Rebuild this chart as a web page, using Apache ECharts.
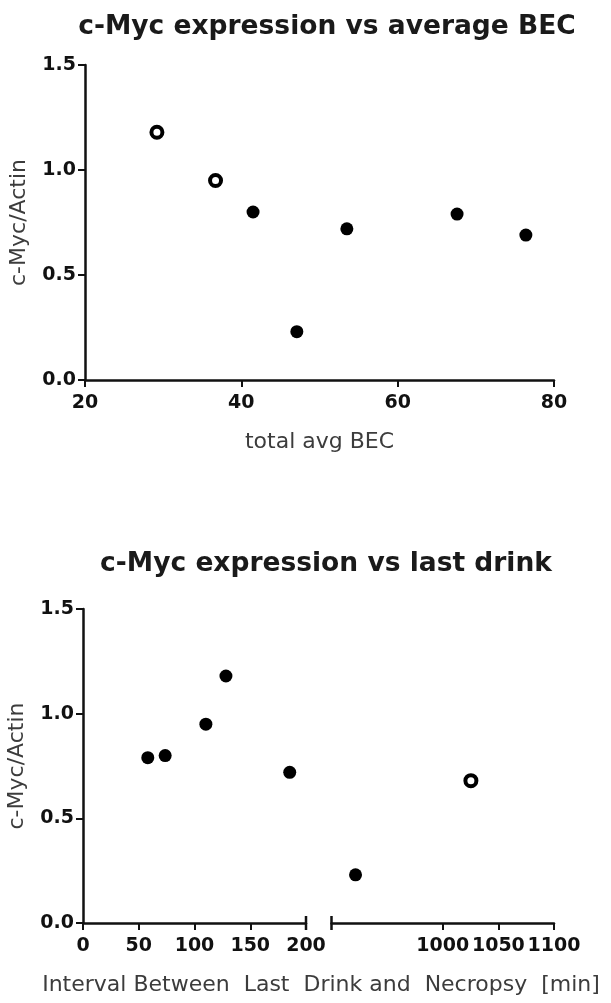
<!DOCTYPE html>
<html>
<head>
<meta charset="utf-8">
<script src="https://cdn.jsdelivr.net/npm/echarts@6/dist/echarts.min.js"></script>
<style>
html,body{margin:0;padding:0;background:#fff;}
#c{width:611px;height:1003px;}
</style>
</head>
<body>
<div id="c"></div>
<script>
// ---- data ----
const titleTop = 'c-Myc expression vs average BEC';
const titleBottom = 'c-Myc expression vs last drink';
const yName = 'c-Myc/Actin';
const xNameTop = 'total avg BEC';
const xNameBottom = 'Interval Between  Last  Drink and  Necropsy  [min]';

const becOpenX = [29.2, 36.7];
const becOpenY = [1.18, 0.95];
const becFilledX = [41.5, 47.1, 53.5, 67.6, 76.4];
const becFilledY = [0.80, 0.23, 0.72, 0.79, 0.69];

const drinkFilledX = [58.1, 73.7, 110.2, 128.2, 185.4, 921.6];
const drinkFilledY = [0.79, 0.80, 0.95, 1.18, 0.72, 0.23];
const drinkOpenX = [1025.3];
const drinkOpenY = [0.68];

const yTicks = [0, 0.5, 1.0, 1.5];
const becTicks = [20, 40, 60, 80];
const seg1Ticks = [0, 50, 100, 150, 200];
const seg2Ticks = [1000, 1050, 1100];
const seg1Range = [0, 200];
const seg2Range = [900, 1100];

// ---- helpers ----
const FONT = 'DejaVu Sans';
const INK = '#111';
const zip = (xs, ys) => xs.map((x, i) => [x, ys[i]]);
const inRange = (pts, r) => pts.filter(p => p[0] >= r[0] && p[0] <= r[1]);

const axisLine = { show: true, lineStyle: { color: INK, width: 2.5 } };
const axisTick = { show: true, length: 7, lineStyle: { color: INK, width: 2 } };
const tickLabel = { color: INK, fontFamily: FONT, fontWeight: 'bold', fontSize: 19, hideOverlap: false };
const nameStyle = { color: '#3c3c3c', fontFamily: FONT, fontSize: 22 };

const filledStyle = { color: '#000', opacity: 1 };
const openStyle = { color: '#fff', borderColor: '#000', borderWidth: 4, opacity: 1 };

function yAxis(gridIndex, show) {
  return {
    type: 'value', gridIndex: gridIndex, min: yTicks[0], max: yTicks[yTicks.length - 1], interval: 0.5,
    show: show,
    name: yName, nameLocation: 'middle', nameGap: 55, nameRotate: 90, nameTextStyle: nameStyle,
    axisLine: axisLine, axisTick: axisTick, splitLine: { show: false },
    axisLabel: Object.assign({ margin: 9, formatter: v => v.toFixed(1) }, tickLabel)
  };
}

const drinkFilled = zip(drinkFilledX, drinkFilledY);
const drinkOpen = zip(drinkOpenX, drinkOpenY);
const plain = v => String(v);

const chart = echarts.init(document.getElementById('c'), null, { renderer: 'canvas' });

const option = {
  animation: false,
  backgroundColor: '#fff',
  title: [
    { text: titleTop, left: 322, top: 9, textAlign: 'center',
      textStyle: { fontFamily: FONT, fontWeight: 'bold', fontSize: 26.5, color: '#1a1a1a' } },
    { text: titleBottom, left: 321, top: 546, textAlign: 'center',
      textStyle: { fontFamily: FONT, fontWeight: 'bold', fontSize: 26.5, color: '#1a1a1a' } },
    { text: xNameBottom, left: 316, top: 969, textAlign: 'center',
      textStyle: { fontFamily: FONT, fontWeight: 'normal', fontSize: 22, color: '#3c3c3c' } }
  ],
  grid: [
    { left: 83, top: 65, width: 471, height: 315 },
    { left: 83, top: 609, width: 223, height: 314 },
    { left: 331.5, top: 609, width: 222.5, height: 314 }
  ],
  xAxis: [
    { type: 'value', gridIndex: 0, min: becTicks[0], max: becTicks[becTicks.length - 1], interval: 20,
      name: xNameTop, nameLocation: 'middle', nameGap: 51, nameTextStyle: nameStyle,
      axisLine: axisLine, axisTick: axisTick, splitLine: { show: false },
      axisLabel: Object.assign({ margin: 14, formatter: plain }, tickLabel) },
    { type: 'value', gridIndex: 1, min: seg1Range[0], max: seg1Range[1], interval: 50,
      axisLine: axisLine, splitLine: { show: false },
      axisTick: Object.assign({ customValues: seg1Ticks }, axisTick),
      axisLabel: Object.assign({ margin: 14, customValues: seg1Ticks, formatter: plain }, tickLabel) },
    { type: 'value', gridIndex: 2, min: seg2Range[0], max: seg2Range[1], interval: 50,
      axisLine: axisLine, splitLine: { show: false },
      axisTick: Object.assign({ customValues: seg2Ticks }, axisTick),
      axisLabel: Object.assign({ margin: 14, customValues: seg2Ticks, formatter: plain,
        showMinLabel: true, showMaxLabel: true }, tickLabel) }
  ],
  yAxis: [yAxis(0, true), yAxis(1, true), yAxis(2, false)],
  series: [
    { type: 'scatter', xAxisIndex: 0, yAxisIndex: 0, symbolSize: 13,
      itemStyle: filledStyle, data: zip(becFilledX, becFilledY) },
    { type: 'scatter', xAxisIndex: 0, yAxisIndex: 0, symbolSize: 11,
      itemStyle: openStyle, data: zip(becOpenX, becOpenY) },
    { type: 'scatter', xAxisIndex: 1, yAxisIndex: 1, symbolSize: 13,
      itemStyle: filledStyle, data: inRange(drinkFilled, seg1Range) },
    { type: 'scatter', xAxisIndex: 1, yAxisIndex: 1, symbolSize: 11,
      itemStyle: openStyle, data: inRange(drinkOpen, seg1Range) },
    { type: 'scatter', xAxisIndex: 2, yAxisIndex: 2, symbolSize: 13,
      itemStyle: filledStyle, data: inRange(drinkFilled, seg2Range) },
    { type: 'scatter', xAxisIndex: 2, yAxisIndex: 2, symbolSize: 11,
      itemStyle: openStyle, data: inRange(drinkOpen, seg2Range) }
  ]
};
chart.setOption(option);

// axis-break marks, positioned from the axes' own scales
const xb1 = chart.convertToPixel({ xAxisIndex: 1 }, seg1Range[1]);
const xb2 = chart.convertToPixel({ xAxisIndex: 2 }, seg2Range[0]);
const yb = chart.convertToPixel({ yAxisIndex: 1 }, 0);
const brk = x => ({ type: 'line', silent: true, z: 10,
  shape: { x1: x, y1: yb - 7, x2: x, y2: yb + 7 },
  style: { stroke: INK, lineWidth: 2.5 } });
chart.setOption({ graphic: [brk(xb1), brk(xb2)] });
</script>
</body>
</html>
